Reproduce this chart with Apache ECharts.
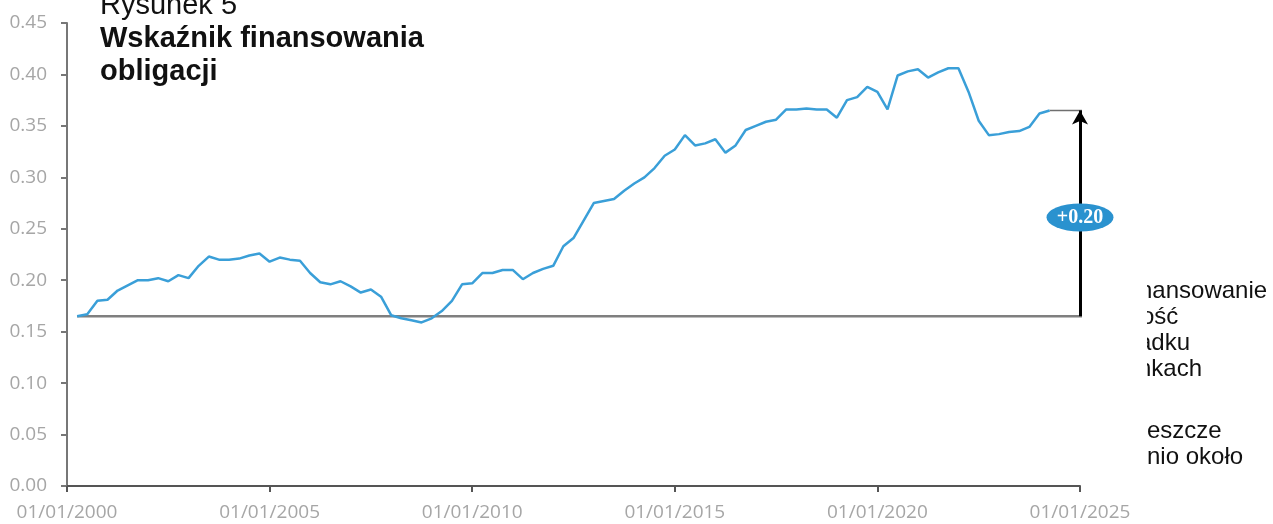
<!DOCTYPE html>
<html>
<head>
<meta charset="utf-8">
<script src="https://cdn.jsdelivr.net/npm/echarts@6/dist/echarts.min.js"></script>
<style>
  html, body { margin: 0; padding: 0; background: #fff; }
  #chart { width: 1273px; height: 524px; }
</style>
</head>
<body>
<div id="chart"></div>
<script>
// Bond financing ratio, quarterly observations from Q2 2000 to Q2 2024
const firstQuarter = 2000.25;
const quarterStep = 0.25;
const ratioValues = [
  0.165, 0.167, 0.180, 0.181, 0.190, 0.195, 0.200, 0.200, 0.202, 0.199,
  0.205, 0.202, 0.214, 0.223, 0.220, 0.220, 0.221, 0.224, 0.226, 0.218,
  0.222, 0.220, 0.219, 0.207, 0.198, 0.196, 0.199, 0.194, 0.188, 0.191,
  0.184, 0.166, 0.163, 0.161, 0.159, 0.163, 0.170, 0.180, 0.196, 0.197,
  0.207, 0.207, 0.210, 0.210, 0.201, 0.207, 0.211, 0.214, 0.233, 0.241,
  0.258, 0.275, 0.277, 0.279, 0.287, 0.294, 0.300, 0.309, 0.321, 0.327,
  0.341, 0.331, 0.333, 0.337, 0.324, 0.331, 0.346, 0.350, 0.354, 0.356,
  0.366, 0.366, 0.367, 0.366, 0.366, 0.358, 0.375, 0.378, 0.388, 0.383,
  0.366, 0.399, 0.403, 0.405, 0.397, 0.402, 0.406, 0.406, 0.383, 0.355,
  0.341, 0.342, 0.344, 0.345, 0.349, 0.362, 0.365
];
const xTickYears = [2000, 2005, 2010, 2015, 2020, 2025];
const yTicks = [0.00, 0.05, 0.10, 0.15, 0.20, 0.25, 0.30, 0.35, 0.40, 0.45];

const titleLines = ['Rysunek 5', 'Wskaźnik finansowania', 'obligacji'];
const sideLines = ['nansowanie', 'ość', 'adku', 'nkach', 'eszcze', 'nio około'];

// x position of each observation (decimal year)
const quarterYears = ratioValues.map((_, i) => firstQuarter + quarterStep * i);
const linePoints = ratioValues.map((v, i) => [quarterYears[i], v]);

const startValue = ratioValues[0];
const endValue = ratioValues[ratioValues.length - 1];
const change = endValue - startValue;
const arrowYear = 2025;
const changeLabel = (change >= 0 ? '+' : '') + change.toFixed(2);

const chart = echarts.init(document.getElementById('chart'), null, { renderer: 'canvas' });

const labelFont = "'Open Sans', 'Liberation Sans', sans-serif";
const titleFont = "'Liberation Sans', Arial, sans-serif";
const sideFont = "24px 'Liberation Sans', Arial, sans-serif";

chart.setOption({
  animation: false,
  backgroundColor: '#ffffff',
  grid: { left: 67, right: 193, top: 23, bottom: 38, containLabel: false },
  xAxis: {
    type: 'value',
    min: xTickYears[0],
    max: xTickYears[xTickYears.length - 1],
    interval: 5,
    axisLine: { show: true, lineStyle: { color: '#555555', width: 2 } },
    axisTick: { show: true, length: 6, lineStyle: { color: '#555555', width: 2 } },
    splitLine: { show: false },
    axisLabel: {
      color: '#a6a6a6',
      fontSize: 19,
      fontFamily: labelFont,
      margin: 17,
      formatter: v => '01/01/' + v
    }
  },
  yAxis: {
    type: 'value',
    min: yTicks[0],
    max: yTicks[yTicks.length - 1],
    interval: 0.05,
    axisLine: { show: true, lineStyle: { color: '#777777', width: 2 } },
    axisTick: { show: true, length: 6, lineStyle: { color: '#777777', width: 2 } },
    splitLine: { show: false },
    axisLabel: {
      color: '#a6a6a6',
      fontSize: 19,
      fontFamily: labelFont,
      margin: 20,
      formatter: v => v.toFixed(2)
    }
  },
  series: [
    {
      // starting level, carried across to the arrow
      type: 'line',
      data: [[quarterYears[0], startValue], [arrowYear + 0.1, startValue]],
      symbol: 'none',
      silent: true,
      lineStyle: { color: '#7f7f7f', width: 2.5 },
      z: 2
    },
    {
      // latest level, carried across to the arrow
      type: 'line',
      data: [[quarterYears[quarterYears.length - 1], endValue], [arrowYear + 0.1, endValue]],
      symbol: 'none',
      silent: true,
      lineStyle: { color: '#6f6f6f', width: 1.5 },
      z: 2
    },
    {
      name: 'Wskaźnik finansowania obligacji',
      type: 'line',
      data: linePoints,
      showSymbol: false,
      symbol: 'none',
      lineStyle: { color: '#3a9fd8', width: 2.5 },
      z: 4,
      markLine: {
        silent: true,
        symbol: ['none', 'arrow'],
        symbolSize: [12, 14],
        label: { show: false },
        lineStyle: { color: '#000000', width: 3, type: 'solid' },
        data: [[
          { coord: [arrowYear, startValue] },
          { coord: [arrowYear, endValue] }
        ]],
        z: 5
      },
      markPoint: {
        silent: true,
        symbol: 'circle',
        symbolSize: [67, 28],
        itemStyle: { color: '#2a92cf' },
        label: {
          show: true,
          formatter: changeLabel,
          color: '#ffffff',
          fontSize: 20,
          fontWeight: 'bold',
          fontFamily: "'Liberation Serif', 'DejaVu Serif', serif"
        },
        data: [{ coord: [arrowYear, 0.261] }],
        z: 6
      }
    }
  ],
  graphic: [
    {
      type: 'text', left: 100, top: -9, z: 10,
      style: { text: titleLines[0], font: '29px ' + titleFont, fill: '#111111' }
    },
    {
      type: 'text', left: 100, top: 24, z: 10,
      style: { text: titleLines[1], font: 'bold 29px ' + titleFont, fill: '#111111' }
    },
    {
      type: 'text', left: 100, top: 57, z: 10,
      style: { text: titleLines[2], font: 'bold 29px ' + titleFont, fill: '#111111' }
    },
    // side commentary, partly hidden behind the chart panel
    { type: 'text', left: 1139, top: 279, z: 10, style: { text: sideLines[0], font: sideFont, fill: '#111111' } },
    { type: 'text', left: 1141, top: 305, z: 10, style: { text: sideLines[1], font: sideFont, fill: '#111111' } },
    { type: 'text', left: 1138, top: 331, z: 10, style: { text: sideLines[2], font: sideFont, fill: '#111111' } },
    { type: 'text', left: 1138, top: 357, z: 10, style: { text: sideLines[3], font: sideFont, fill: '#111111' } },
    { type: 'text', left: 1147, top: 419, z: 10, style: { text: sideLines[4], font: sideFont, fill: '#111111' } },
    { type: 'text', left: 1147, top: 445, z: 10, style: { text: sideLines[5], font: sideFont, fill: '#111111' } },
    {
      type: 'rect', z: 11, silent: true,
      shape: { x: 1110, y: 272, width: 37, height: 120 },
      style: { fill: '#ffffff' }
    }
  ]
});
</script>
</body>
</html>
